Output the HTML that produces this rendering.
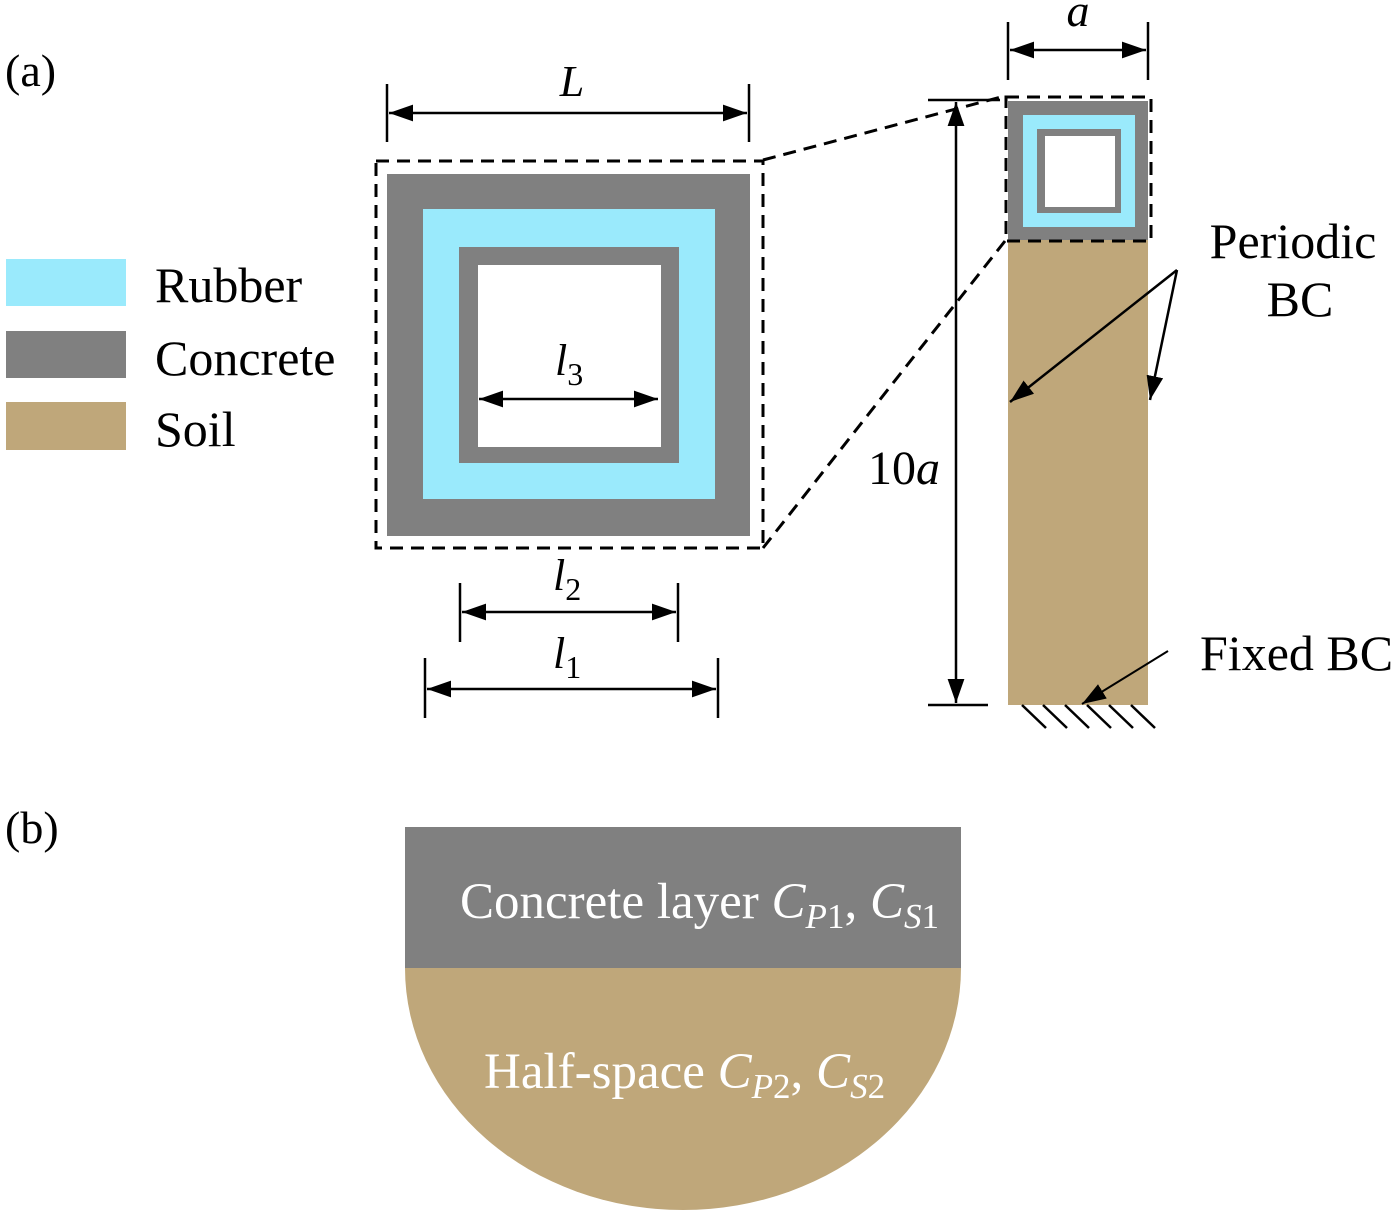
<!DOCTYPE html>
<html><head><meta charset="utf-8"><style>html,body{margin:0;padding:0;background:#fff}svg{display:block}text{font-family:"Liberation Serif",serif}</style></head>
<body>
<svg width="1400" height="1214" viewBox="0 0 1400 1214" xmlns="http://www.w3.org/2000/svg">
<defs>
<marker id="ar2" viewBox="0 0 10 10" refX="10" refY="5" markerWidth="24" markerHeight="24" markerUnits="userSpaceOnUse" orient="auto-start-reverse"><path d="M0,1.5 L10,5 L0,8.5 z" fill="#000"/></marker>
</defs>
<!-- legend -->
<text x="5" y="86" font-size="46">(a)</text>
<rect x="6" y="259" width="120" height="47" fill="#9aeafc"/>
<rect x="6" y="331" width="120" height="47" fill="#808080"/>
<rect x="6" y="402" width="120" height="48" fill="#bfa77a"/>
<text x="155" y="302" font-size="50">Rubber</text>
<text x="155" y="375" font-size="50">Concrete</text>
<text x="155" y="446" font-size="50">Soil</text>
<!-- big cell -->
<rect x="387" y="174" width="363" height="362" fill="#808080"/>
<rect x="423" y="209" width="292" height="290" fill="#9aeafc"/>
<rect x="459" y="247" width="220" height="216" fill="#808080"/>
<rect x="478" y="265" width="183" height="182" fill="#fff"/>
<rect x="376" y="161" width="387" height="387" fill="none" stroke="#000" stroke-width="3" stroke-dasharray="13,8"/>
<line x1="763" y1="160" x2="1005" y2="96" stroke="#000" stroke-width="3" stroke-dasharray="13,8"/>
<line x1="763" y1="548" x2="1005" y2="241" stroke="#000" stroke-width="3" stroke-dasharray="13,8"/>
<!-- L -->
<line x1="387" y1="84" x2="387" y2="142" stroke="#000" stroke-width="2.5"/>
<line x1="749" y1="84" x2="749" y2="142" stroke="#000" stroke-width="2.5"/>
<line x1="389" y1="113" x2="747" y2="113" stroke="#000" stroke-width="2.5" marker-start="url(#ar2)" marker-end="url(#ar2)"/>
<text x="572" y="96" font-size="44" font-style="italic" text-anchor="middle">L</text>
<!-- l3 -->
<line x1="479" y1="399" x2="658" y2="399" stroke="#000" stroke-width="2.5" marker-start="url(#ar2)" marker-end="url(#ar2)"/>
<text x="555" y="375" font-size="44" font-style="italic">l<tspan font-style="normal" font-size="32" dy="10">3</tspan></text>
<!-- l2 -->
<line x1="460" y1="583" x2="460" y2="642" stroke="#000" stroke-width="2.5"/>
<line x1="678" y1="583" x2="678" y2="642" stroke="#000" stroke-width="2.5"/>
<line x1="462" y1="612" x2="676" y2="612" stroke="#000" stroke-width="2.5" marker-start="url(#ar2)" marker-end="url(#ar2)"/>
<text x="553" y="590" font-size="44" font-style="italic">l<tspan font-style="normal" font-size="32" dy="10">2</tspan></text>
<!-- l1 -->
<line x1="425" y1="658" x2="425" y2="718" stroke="#000" stroke-width="2.5"/>
<line x1="718" y1="658" x2="718" y2="718" stroke="#000" stroke-width="2.5"/>
<line x1="427" y1="689" x2="716" y2="689" stroke="#000" stroke-width="2.5" marker-start="url(#ar2)" marker-end="url(#ar2)"/>
<text x="553" y="668" font-size="44" font-style="italic">l<tspan font-style="normal" font-size="32" dy="10">1</tspan></text>
<!-- column -->
<rect x="1008" y="240" width="140" height="465" fill="#bfa77a"/>
<rect x="1008" y="101" width="140" height="139" fill="#808080"/>
<rect x="1023" y="115" width="112" height="112" fill="#9aeafc"/>
<rect x="1037" y="129" width="84" height="84" fill="#808080"/>
<rect x="1045" y="136" width="70" height="71" fill="#fff"/>
<rect x="1006" y="97" width="145" height="144" fill="none" stroke="#000" stroke-width="3" stroke-dasharray="13,8"/>
<!-- a -->
<line x1="1008" y1="22" x2="1008" y2="80" stroke="#000" stroke-width="2.5"/>
<line x1="1148" y1="22" x2="1148" y2="80" stroke="#000" stroke-width="2.5"/>
<line x1="1010" y1="50" x2="1146" y2="50" stroke="#000" stroke-width="2.5" marker-start="url(#ar2)" marker-end="url(#ar2)"/>
<text x="1078" y="26" font-size="46" font-style="italic" text-anchor="middle">a</text>
<!-- 10a -->
<line x1="928" y1="100" x2="1000" y2="100" stroke="#000" stroke-width="2.5"/>
<line x1="928" y1="705" x2="988" y2="705" stroke="#000" stroke-width="2.5"/>
<line x1="956" y1="102" x2="956" y2="703" stroke="#000" stroke-width="2.5" marker-start="url(#ar2)" marker-end="url(#ar2)"/>
<text x="904" y="484" font-size="48" text-anchor="middle">10<tspan font-style="italic">a</tspan></text>
<!-- hatch -->
<g stroke="#000" stroke-width="2.5">
<line x1="1022" y1="705" x2="1046" y2="728"/><line x1="1043" y1="705" x2="1067" y2="728"/><line x1="1065" y1="705" x2="1089" y2="728"/><line x1="1087" y1="705" x2="1111" y2="728"/><line x1="1109" y1="705" x2="1133" y2="728"/><line x1="1131" y1="705" x2="1155" y2="728"/>
</g>
<!-- BC labels -->
<text x="1293" y="258" font-size="50" text-anchor="middle">Periodic</text>
<text x="1300" y="316" font-size="50" text-anchor="middle">BC</text>
<line x1="1177" y1="270" x2="1010" y2="402" stroke="#000" stroke-width="2.5" marker-end="url(#ar2)"/>
<line x1="1177" y1="270" x2="1150" y2="400" stroke="#000" stroke-width="2.5" marker-end="url(#ar2)"/>
<text x="1200" y="670" font-size="50">Fixed BC</text>
<line x1="1168" y1="651" x2="1082" y2="704" stroke="#000" stroke-width="2" marker-end="url(#ar2)"/>
<!-- (b) -->
<text x="5" y="843" font-size="46">(b)</text>
<path d="M405,968 L961,968 A278,242 0 0 1 405,968 Z" fill="#bfa77a"/>
<rect x="405" y="827" width="556" height="141" fill="#808080"/>
<text x="460" y="918" font-size="51" fill="#fff">Concrete layer <tspan font-style="italic">C</tspan><tspan font-style="italic" font-size="35" dy="10">P</tspan><tspan font-size="35">1</tspan><tspan dy="-10">, </tspan><tspan font-style="italic">C</tspan><tspan font-style="italic" font-size="35" dy="10">S</tspan><tspan font-size="35">1</tspan></text>
<text x="484" y="1088" font-size="51" fill="#fff">Half-space <tspan font-style="italic">C</tspan><tspan font-style="italic" font-size="35" dy="10">P</tspan><tspan font-size="35">2</tspan><tspan dy="-10">, </tspan><tspan font-style="italic">C</tspan><tspan font-style="italic" font-size="35" dy="10">S</tspan><tspan font-size="35">2</tspan></text>
</svg>
</body></html>
